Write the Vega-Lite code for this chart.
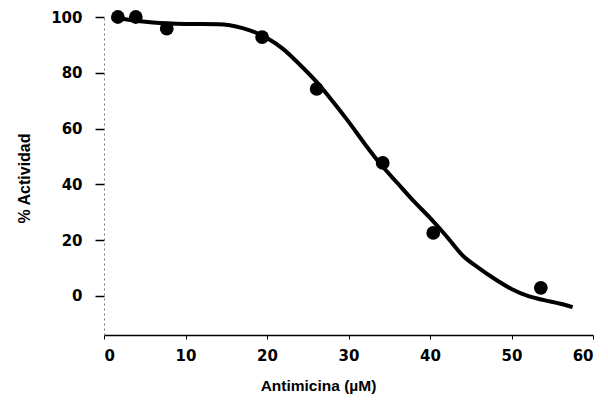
{
  "$schema": "https://vega.github.io/schema/vega-lite/v6.json",
  "autosize": {"type": "none"},
  "width": 489,
  "height": 318,
  "padding": {"left": 104, "top": 17, "right": 15, "bottom": 68},
  "background": "white",
  "config": {"view": {"stroke": null}, "font": "Liberation Sans"},
  "datasets": {
    "pts": [
      {"x": 1.7, "y": 100},
      {"x": 3.9, "y": 100},
      {"x": 7.7, "y": 95.8},
      {"x": 19.4, "y": 92.8},
      {"x": 26.1, "y": 74.2},
      {"x": 34.2, "y": 47.7},
      {"x": 40.4, "y": 22.6},
      {"x": 53.6, "y": 2.9}
    ],
    "curve": [
      {"x": 1, "y": 100},
      {"x": 3, "y": 99},
      {"x": 6, "y": 98},
      {"x": 10, "y": 97.5},
      {"x": 14, "y": 97.4},
      {"x": 17, "y": 96},
      {"x": 20, "y": 92.5},
      {"x": 22, "y": 88.5},
      {"x": 24, "y": 83},
      {"x": 26, "y": 77},
      {"x": 28, "y": 70},
      {"x": 30, "y": 62.5},
      {"x": 32, "y": 54.5},
      {"x": 34, "y": 47},
      {"x": 36, "y": 40.5},
      {"x": 38, "y": 34},
      {"x": 40, "y": 28},
      {"x": 42, "y": 21.5},
      {"x": 44, "y": 14.5},
      {"x": 46, "y": 10},
      {"x": 48, "y": 6},
      {"x": 50, "y": 2.5},
      {"x": 52, "y": 0},
      {"x": 54, "y": -1.5},
      {"x": 56, "y": -2.8},
      {"x": 57.5, "y": -4}
    ]
  },
  "encoding": {
    "x": {
      "field": "x", "type": "quantitative",
      "scale": {"domain": [0, 60], "nice": false, "zero": false},
      "axis": {
        "title": "Antimicina (µM)",
        "values": [0, 10, 20, 30, 40, 50, 60],
        "grid": false,
        "domainColor": "black", "domainWidth": 1.5,
        "tickColor": "black", "tickSize": 4, "tickWidth": 1,
        "labelFont": "DejaVu Sans", "labelFontWeight": "bold", "labelFontSize": 15, "labelColor": "black",
        "labelPadding": 9,
        "titleFont": "Liberation Sans", "titleFontWeight": "bold", "titleFontSize": 15.5, "titleColor": "black",
        "titleX": 214, "titleY": 50, "titleBaseline": "middle"
      }
    },
    "y": {
      "field": "y", "type": "quantitative",
      "scale": {"domain": [-14, 100], "nice": false, "zero": false},
      "axis": {
        "title": "% Actividad",
        "values": [0, 20, 40, 60, 80, 100],
        "grid": false,
        "domainColor": "#777", "domainWidth": 1, "domainDash": [2, 3],
        "tickColor": "black", "tickSize": 9, "tickWidth": 1.5,
        "labelFont": "DejaVu Sans", "labelFontWeight": "bold", "labelFontSize": 15, "labelColor": "black",
        "labelPadding": 13,
        "titleFont": "Liberation Sans", "titleFontWeight": "bold", "titleFontSize": 16, "titleColor": "black",
        "titleX": -80, "titleY": 161, "titleBaseline": "middle"
      }
    }
  },
  "layer": [
    {
      "data": {"name": "curve"},
      "mark": {"type": "line", "color": "black", "strokeWidth": 4, "interpolate": "monotone"}
    },
    {
      "data": {"name": "pts"},
      "mark": {"type": "point", "filled": true, "color": "black", "opacity": 1, "size": 190, "shape": "circle"}
    }
  ]
}
